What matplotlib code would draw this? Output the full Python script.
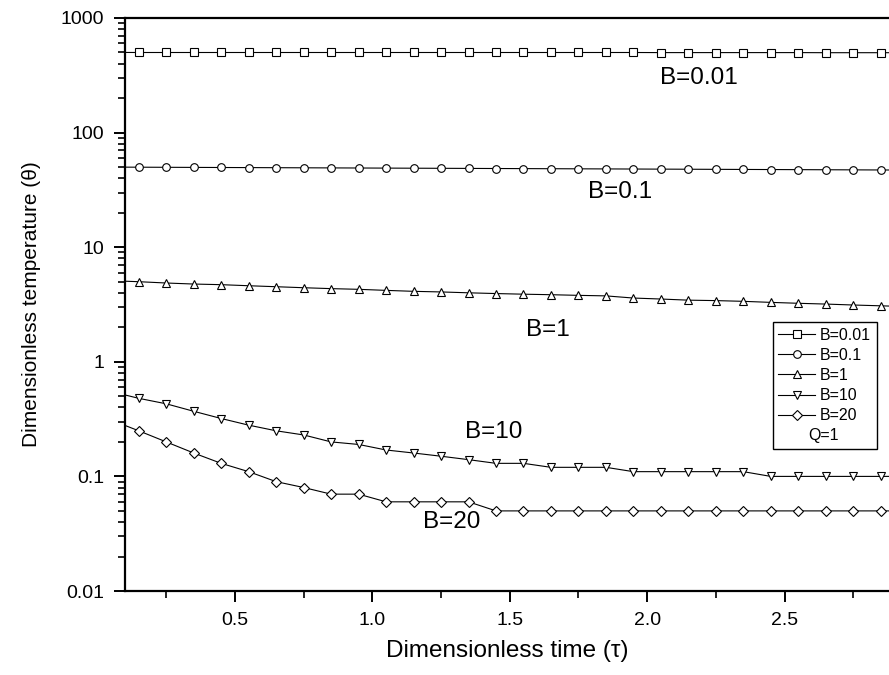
import matplotlib
matplotlib.use("Agg")
import matplotlib.pyplot as plt
from matplotlib.lines import Line2D
from matplotlib.ticker import FixedLocator, FixedFormatter, LogLocator, NullFormatter

plt.rcParams['font.family'] = ['Liberation Sans', 'DejaVu Sans']

tau = [0.05, 0.15, 0.25, 0.35, 0.45, 0.55, 0.65, 0.75, 0.85, 0.95,
       1.05, 1.15, 1.25, 1.35, 1.45, 1.55, 1.65, 1.75, 1.85, 1.95,
       2.05, 2.15, 2.25, 2.35, 2.45, 2.55, 2.65, 2.75, 2.85, 2.95]

theta_b001 = [501, 500, 500, 500, 500, 500, 500, 500, 500, 500,
              500, 500, 500, 500, 500, 500, 500, 500, 500, 500,
              499, 499, 499, 499, 499, 499, 498, 498, 498, 498]
theta_b01 = [50.0, 49.9, 49.8, 49.7, 49.6, 49.5, 49.4, 49.3, 49.2, 49.1,
             49.0, 48.9, 48.8, 48.7, 48.6, 48.5, 48.4, 48.3, 48.2, 48.1,
             48.0, 47.9, 47.8, 47.7, 47.6, 47.5, 47.4, 47.3, 47.2, 47.1]
theta_b1 = [5.1, 5.0, 4.87, 4.77, 4.71, 4.61, 4.52, 4.43, 4.35, 4.29,
            4.2, 4.12, 4.07, 4.0, 3.94, 3.89, 3.85, 3.8, 3.76, 3.6,
            3.53, 3.45, 3.42, 3.37, 3.3, 3.24, 3.19, 3.13, 3.08, 3.03]
theta_b10 = [0.55, 0.48, 0.43, 0.37, 0.32, 0.28, 0.25, 0.23, 0.20, 0.19,
             0.17, 0.16, 0.15, 0.14, 0.13, 0.13, 0.12, 0.12, 0.12, 0.11,
             0.11, 0.11, 0.11, 0.11, 0.10, 0.10, 0.10, 0.10, 0.10, 0.10]
theta_b20 = [0.31, 0.25, 0.20, 0.16, 0.13, 0.11, 0.09, 0.08, 0.07, 0.07,
             0.06, 0.06, 0.06, 0.06, 0.05, 0.05, 0.05, 0.05, 0.05, 0.05,
             0.05, 0.05, 0.05, 0.05, 0.05, 0.05, 0.05, 0.05, 0.05, 0.05]

series = [
    ("B=0.01", theta_b001, "s"),
    ("B=0.1", theta_b01, "o"),
    ("B=1", theta_b1, "^"),
    ("B=10", theta_b10, "v"),
    ("B=20", theta_b20, "D"),
]

y_ticks = [0.01, 0.1, 1, 10, 100, 1000]
y_tick_labels = ["0.01", "0.1", "1", "10", "100", "1000"]

fig = plt.figure(figsize=(8.89, 6.75), dpi=100)
ax = fig.add_axes([125 / 889, 84 / 675, 764 / 889, 573 / 675])

handles = []
for label, values, marker in series:
    ms = {"s": 5.2, "o": 5.5, "^": 6.0, "v": 6.0, "D": 5.5}[marker]
    line, = ax.plot(tau, values, color="black", linewidth=0.8,
                    marker=marker, markersize=ms, markerfacecolor="white",
                    markeredgecolor="black", markeredgewidth=0.8, label=label)
    handles.append(line)

ax.set_yscale("log")
ax.set_ylim(0.01, 1000)
ax.set_xlim(0.1, 2.88)
ax.yaxis.set_major_locator(FixedLocator(y_ticks))
ax.yaxis.set_major_formatter(FixedFormatter(y_tick_labels))
ax.yaxis.set_minor_locator(LogLocator(base=10, subs=range(2, 10)))
ax.yaxis.set_minor_formatter(NullFormatter())
ax.set_xticks([0.5, 1.0, 1.5, 2.0, 2.5])
ax.set_xticklabels(["0.5", "1.0", "1.5", "2.0", "2.5"])
ax.set_xticks([0.25, 0.75, 1.25, 1.75, 2.25, 2.75], minor=True)

# frame is cut off on the right, top edge stays as a plain line
ax.spines["right"].set_visible(False)
for side in ("left", "bottom", "top"):
    ax.spines[side].set_linewidth(1.6)

ax.tick_params(which="major", direction="out", length=8, width=1.4, labelsize=14, pad=7)
ax.tick_params(which="minor", direction="out", length=5, width=1.2)

ax.set_xlabel("Dimensionless time (\u03c4)", fontsize=17.5, labelpad=8)
ax.set_ylabel("Dimensionless temperature (\u03b8)", fontsize=15, labelpad=14)

ax.text(2.19, 299, "B=0.01", fontsize=17.5, ha="center", va="center")
ax.text(1.90, 30.3, "B=0.1", fontsize=17.5, ha="center", va="center")
ax.text(1.64, 1.89, "B=1", fontsize=17.5, ha="center", va="center")
ax.text(1.44, 0.244, "B=10", fontsize=17.5, ha="center", va="center")
ax.text(1.29, 0.04, "B=20", fontsize=17.5, ha="center", va="center")

blank = Line2D([], [], linestyle="none", marker=None)
leg = ax.legend(handles + [blank], [h.get_label() for h in handles] + ["Q=1"],
                loc="upper left", bbox_to_anchor=(0.848, 0.469), borderaxespad=0,
                fontsize=11.5, frameon=True, fancybox=False, framealpha=1,
                edgecolor="black", handlelength=2.3, handletextpad=0.3,
                labelspacing=0.32, borderpad=0.35)
leg.get_frame().set_linewidth(1.0)
leg.get_texts()[-1].set_x(-12)

fig.savefig("out.png", dpi=100)
